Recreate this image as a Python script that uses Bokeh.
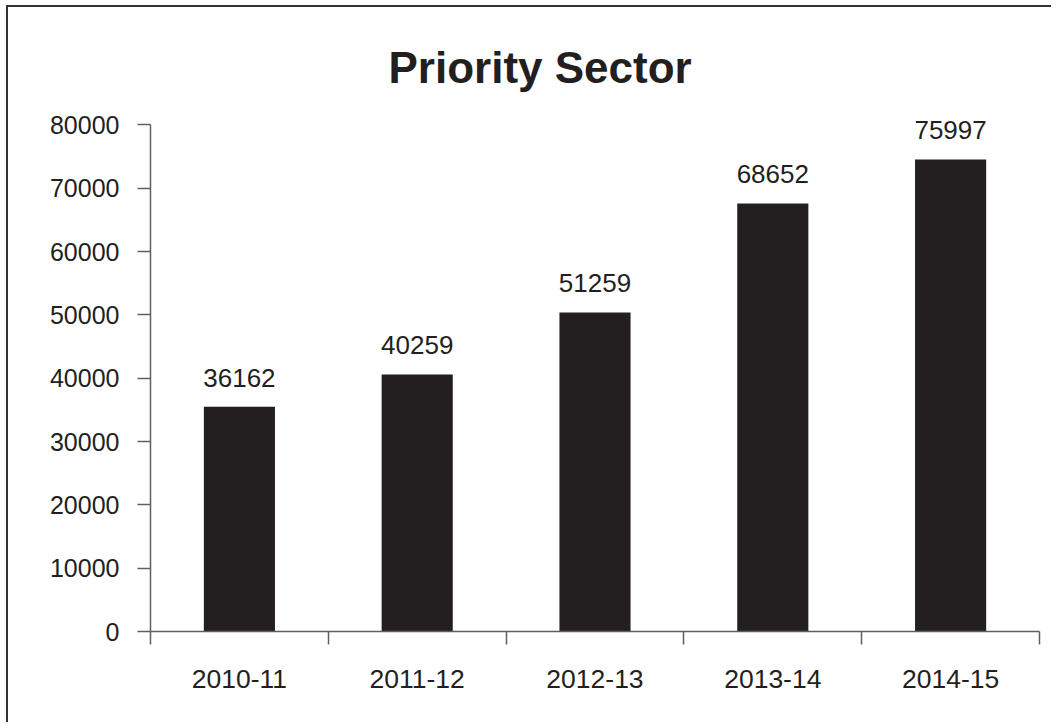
from bokeh.plotting import figure
from bokeh.models import Range1d, FixedTicker, ColumnDataSource
from bokeh.core.properties import value
from bokeh.embed import file_html
from bokeh.resources import INLINE

title_text = "Priority Sector"
categories = ["2010-11", "2011-12", "2012-13", "2013-14", "2014-15"]
bar_values = [35480, 40580, 50370, 67580, 74530]
label_values = ["36162", "40259", "51259", "68652", "75997"]
y_ticks = [0, 10000, 20000, 30000, 40000, 50000, 60000, 70000, 80000]

FONT = "Liberation Sans"
DARK = "#231f20"
AXIS = "#5f5f5f"

n = len(categories)
xs = [i + 0.5 for i in range(n)]
src = ColumnDataSource(dict(x=xs, top=bar_values, lab=label_values))

p = figure(width=1045, height=717, output_backend="svg", toolbar_location=None,
           x_range=Range1d(0, n), y_range=Range1d(0, 84000),
           min_border_left=142, min_border_right=14, min_border_top=92, min_border_bottom=93)
p.styles = {"border-left": "2px solid #333333", "border-top": "2px solid #333333",
            "margin-left": "6px", "margin-top": "5px"}
p.outline_line_color = None
p.grid.visible = False
p.background_fill_color = "white"
p.border_fill_color = "white"

p.title.text = title_text
p.title.align = "left"
p.title.offset = 238
p.title.text_font = FONT
p.title.text_font_size = "44px"
p.title.text_font_style = "bold"
p.title.text_color = DARK
p.title.standoff = 16

p.vbar(x="x", top="top", width=0.4, source=src, fill_color=DARK, line_color=None)
p.text(x="x", y="top", text="lab", source=src, text_align="center", text_baseline="bottom",
       y_offset=-20, text_font=value(FONT), text_font_size="26px", text_color=DARK)

yax = p.yaxis[0]
yax.ticker = FixedTicker(ticks=y_ticks, minor_ticks=[])
yax.bounds = (0, 80000)
yax.axis_line_color = AXIS
yax.axis_line_width = 1.5
yax.major_tick_line_color = AXIS
yax.major_tick_line_width = 1.5
yax.major_tick_out = 13
yax.major_tick_in = 0
yax.minor_tick_line_color = None
yax.major_label_standoff = 18
yax.major_label_text_font = FONT
yax.major_label_text_font_size = "25px"
yax.major_label_text_color = DARK

xax = p.xaxis[0]
xax.ticker = FixedTicker(ticks=xs, minor_ticks=list(range(n + 1)))
xax.major_label_overrides = {x: c for x, c in zip(xs, categories)}
xax.axis_line_color = AXIS
xax.axis_line_width = 1.5
xax.major_tick_line_color = None
xax.minor_tick_line_color = AXIS
xax.minor_tick_line_width = 1.5
xax.minor_tick_out = 13
xax.minor_tick_in = 0
xax.major_tick_out = 13
xax.major_tick_in = 0
xax.major_label_standoff = 25
xax.major_label_text_font = FONT
xax.major_label_text_font_size = "26.5px"
xax.major_label_text_color = DARK

open("out.html", "w").write(file_html(p, INLINE))
